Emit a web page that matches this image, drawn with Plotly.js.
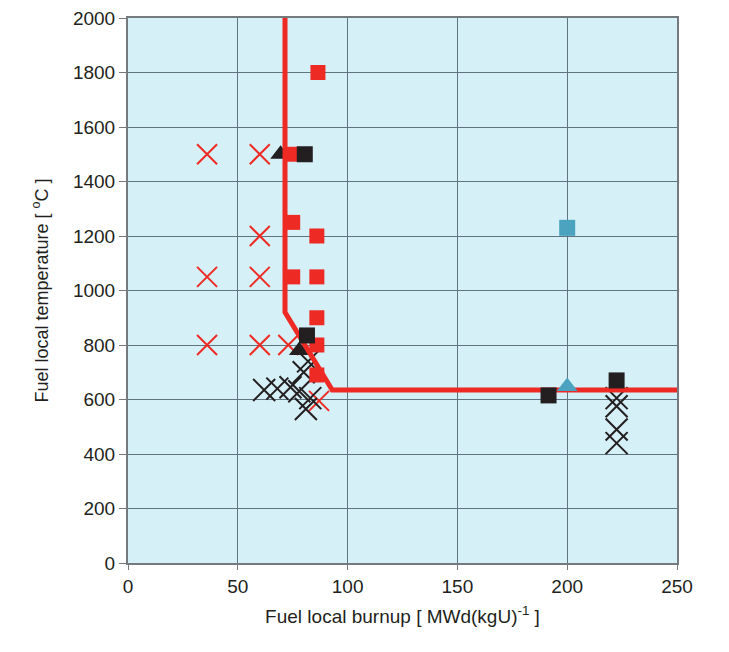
<!DOCTYPE html>
<html><head><meta charset="utf-8">
<script src="https://cdn.plot.ly/plotly-3.0.1.min.js"></script>
<style>body{margin:0;background:#fff}#c{width:729px;height:652px}</style>
</head><body><div id="c"></div>
<script>
// Threshold boundary line
const lineX = [71.5, 71.5, 93, 250];
const lineY = [2000, 920, 635, 635];
// Red crosses
const redCrossX = [36, 36, 36, 60, 60, 60, 60, 73, 87];
const redCrossY = [1500, 1050, 800, 1500, 1200, 1050, 800, 800, 595];
// Red squares
const redSqX = [86.5, 75, 75, 86, 75, 86, 86, 86, 86];
const redSqY = [1800, 1500, 1250, 1200, 1050, 1050, 900, 800, 690];
// Black squares
const blkSqX = [80.5, 81.5, 191.5, 222.5];
const blkSqY = [1500, 835, 615, 670];
// Black triangles
const blkTriX = [69.5, 78];
const blkTriY = [1500, 780];
// Black crosses
const blkCrossX = [62, 68, 74, 78, 80, 82, 83, 81, 222.5, 222.5, 222.5, 222.5];
const blkCrossY = [635, 640, 645, 630, 700, 740, 605, 565, 605, 575, 490, 440];
// Blue markers
const bluSqX = [200], bluSqY = [1230];
const bluTriX = [200], bluTriY = [648];

const RED = '#ee2a24', BLK = '#231f20', BLU = '#4ba3c0';
const traces = [
  {x: redCrossX, y: redCrossY, mode: 'markers', type: 'scatter',
   marker: {symbol: 'x-thin-open', size: 20, line: {color: RED, width: 2}, color: RED}},
  {x: blkCrossX, y: blkCrossY, mode: 'markers', type: 'scatter',
   marker: {symbol: 'x-thin-open', size: 22, line: {color: BLK, width: 2}, color: BLK}},
  {x: blkTriX, y: blkTriY, mode: 'markers', type: 'scatter',
   marker: {symbol: 'triangle-up', size: 18, color: BLK, line: {width: 0}}},
  {x: lineX, y: lineY, mode: 'lines', type: 'scatter',
   line: {color: RED, width: 5}},
  {x: redSqX, y: redSqY, mode: 'markers', type: 'scatter',
   marker: {symbol: 'square', size: 15, color: RED, line: {width: 0}}},
  {x: blkSqX, y: blkSqY, mode: 'markers', type: 'scatter',
   marker: {symbol: 'square', size: 16, color: BLK, line: {width: 0}}},
  {x: bluSqX, y: bluSqY, mode: 'markers', type: 'scatter',
   marker: {symbol: 'square', size: 16, color: BLU, line: {width: 0}}},
  {x: bluTriX, y: bluTriY, mode: 'markers', type: 'scatter',
   marker: {symbol: 'triangle-up', size: 18, color: BLU, line: {width: 0}}}
];
const layout = {
  width: 729, height: 652,
  margin: {l: 128, r: 52, t: 18, b: 89},
  paper_bgcolor: '#ffffff', plot_bgcolor: '#d5f0f6',
  showlegend: false,
  font: {family: 'Liberation Sans, Arial, sans-serif', size: 19, color: '#231f20'},
  xaxis: {range: [0, 250], tickvals: [0, 50, 100, 150, 200, 250], showgrid: true,
    gridcolor: '#5f7380', gridwidth: 1, zeroline: false, showline: true, mirror: true,
    linecolor: '#747a7e', linewidth: 2, ticks: 'outside', ticklen: 5, tickcolor: '#747a7e',
    tickfont: {size: 19},
    title: {text: 'Fuel local burnup [ MWd(kgU)<sup>-1</sup> ]', font: {size: 19}, standoff: 14}},
  yaxis: {range: [0, 2000], dtick: 200, showgrid: true,
    gridcolor: '#5f7380', gridwidth: 1, zeroline: false, showline: true, mirror: true,
    linecolor: '#747a7e', linewidth: 2, ticks: 'outside', ticklen: 7, tickcolor: '#747a7e',
    tickfont: {size: 19},
    title: {text: 'Fuel local temperature [ <sup>o</sup>C ]', font: {size: 18}, standoff: 20}}
};
Plotly.newPlot('c', traces, layout, {displayModeBar: false});
</script></body></html>
